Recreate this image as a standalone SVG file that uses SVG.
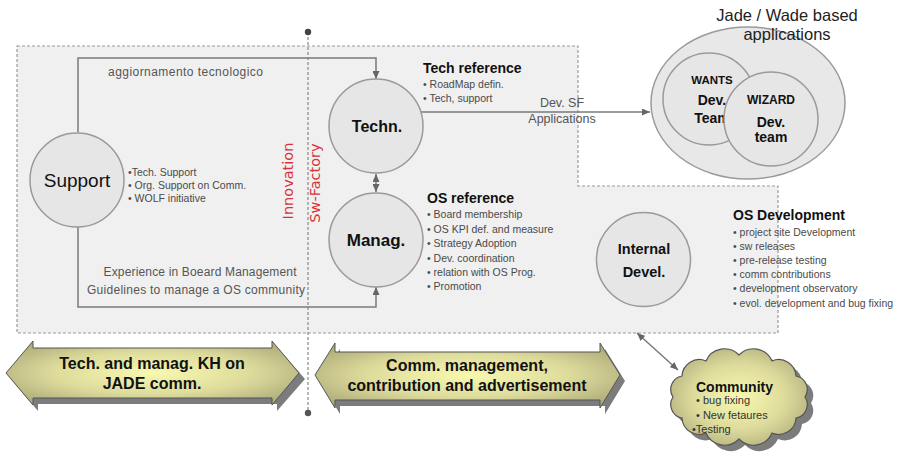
<svg xmlns="http://www.w3.org/2000/svg" width="918" height="454" viewBox="0 0 918 454">
<defs>
<style>
text{font-family:"Liberation Sans",Arial,sans-serif;}
.node{fill:#e6e6e6;stroke:#9a9a9a;stroke-width:1.5;}
.conn{fill:none;stroke:#7a7a7a;stroke-width:1.5;}
.b{font-weight:bold;fill:#111;}
.li{fill:#4a4a4a;font-size:10.5px;}
.lg{fill:#555;}
.red{font-family:"DejaVu Sans",sans-serif;fill:#d8333a;font-size:14.5px;}
.ctr{text-anchor:middle;}
.shadow{fill:#7c7c7c;}
.arrowshape{fill:url(#yel);stroke:#555;stroke-width:1;}
</style>
<radialGradient id="yel" cx="50%" cy="50%" r="60%">
<stop offset="0" stop-color="#f8f8b0"/>
<stop offset="0.55" stop-color="#dedc9c"/>
<stop offset="1" stop-color="#aeac7a"/>
</radialGradient>
<marker id="ah" markerUnits="userSpaceOnUse" markerWidth="8" markerHeight="7" refX="8" refY="3.5" orient="auto-start-reverse">
<path d="M0,0 L8,3.5 L0,7 z" fill="#666"/>
</marker>
</defs>

<rect width="918" height="454" fill="#ffffff"/>

<!-- background region -->
<g id="region">
<polygon points="17,46 578,46 578,186 778,186 778,333 17,333" fill="#f0f0f0" stroke="#999" stroke-width="1.2" stroke-dasharray="3 2"/>
</g>

<!-- divider -->
<g id="divider">
<line x1="308" y1="32" x2="308" y2="413" stroke="#888" stroke-width="1.2" stroke-dasharray="3 2"/>
<circle cx="308" cy="32" r="3.2" fill="#444"/>
<circle cx="308" cy="413" r="3.2" fill="#555"/>
<text class="red ctr" transform="translate(293,181) rotate(-90)">Innovation</text>
<text class="red ctr" transform="translate(320,183) rotate(-90)">Sw-Factory</text>
</g>

<!-- connectors -->
<g id="connectors">
<path class="conn" d="M78,132 V58 H376 V79" marker-end="url(#ah)"/>
<path class="conn" d="M78,227 V307 H376 V287" marker-end="url(#ah)"/>
<path class="conn" d="M421,112 H650" marker-end="url(#ah)"/>
<path class="conn" d="M376,174 V192" marker-start="url(#ah)" marker-end="url(#ah)"/>
<path class="conn" d="M637,333 L678,370" marker-start="url(#ah)" marker-end="url(#ah)"/>
<text class="lg" x="108" y="76" font-size="12" textLength="155">aggiornamento tecnologico</text>
<text class="lg ctr" x="200" y="276" font-size="12" textLength="193">Experience in Boeard Management</text>
<text class="lg ctr" x="196" y="294" font-size="12" textLength="218">Guidelines to manage a OS community</text>
<text class="lg ctr" x="562" y="107" font-size="12.5">Dev. SF</text>
<text class="lg ctr" x="562" y="123" font-size="12.5">Applications</text>
</g>

<!-- Support -->
<g id="support">
<circle class="node" cx="77" cy="180" r="47"/>
<text class="ctr" x="77" y="187" font-size="19" fill="#111">Support</text>
<text class="li" x="128" y="176" font-size="11">•Tech. Support</text>
<text class="li" x="128" y="189" font-size="11">• Org. Support on  Comm.</text>
<text class="li" x="128" y="202" font-size="11">• WOLF initiative</text>
</g>

<!-- Techn -->
<g id="techn">
<circle class="node" cx="376" cy="126" r="47"/>
<text class="b ctr" x="377" y="132" font-size="16">Techn.</text>
<text class="b" x="423" y="73" font-size="14">Tech reference</text>
<text class="li" x="423" y="88">• RoadMap defin.</text>
<text class="li" x="423" y="102">• Tech, support</text>
</g>

<!-- Manag -->
<g id="manag">
<circle class="node" cx="376" cy="240" r="47"/>
<text class="b ctr" x="376" y="246" font-size="17">Manag.</text>
<text class="b" x="427" y="203" font-size="14">OS reference</text>
<text class="li" x="427" y="218" font-size="11">• Board membership</text>
<text class="li" x="427" y="233" font-size="11">• OS KPI def. and measure</text>
<text class="li" x="427" y="247" font-size="11">• Strategy Adoption</text>
<text class="li" x="427" y="262" font-size="11">• Dev. coordination</text>
<text class="li" x="427" y="276" font-size="11">• relation with OS Prog.</text>
<text class="li" x="427" y="290" font-size="11">• Promotion</text>
</g>

<!-- Internal Devel -->
<g id="internal">
<circle class="node" cx="643.5" cy="259.5" r="47"/>
<text class="b ctr" x="644" y="254" font-size="14.5">Internal</text>
<text class="b ctr" x="644" y="277" font-size="14.5">Devel.</text>
<text class="b" x="733" y="220" font-size="14">OS Development</text>
<text class="li" x="733" y="236" font-size="11">• project site Development</text>
<text class="li" x="733" y="250" font-size="11">• sw releases</text>
<text class="li" x="733" y="264" font-size="11">• pre-release testing</text>
<text class="li" x="733" y="278" font-size="11">• comm contributions</text>
<text class="li" x="733" y="292" font-size="11">• development observatory</text>
<text class="li" x="733" y="307" font-size="11">• evol. development  and bug fixing</text>
</g>

<!-- Jade/Wade applications -->
<g id="apps">
<ellipse cx="748" cy="103" rx="97" ry="76" fill="#e8e8e8" stroke="#9a9a9a" stroke-width="1.5"/>
<text class="ctr" x="787" y="21" font-size="16.5" fill="#222">Jade / Wade based</text>
<text class="ctr" x="787" y="40" font-size="16.5" fill="#222">applications</text>
<g id="wants">
<circle class="node" cx="709" cy="99" r="46"/>
<text class="b ctr" x="712" y="84" font-size="11.5">WANTS</text>
<text class="b ctr" x="712" y="105" font-size="14">Dev.</text>
<text class="b ctr" x="712" y="123" font-size="14">Team</text>
</g>
<g id="wizard">
<circle class="node" cx="771" cy="119" r="47"/>
<text class="b ctr" x="771" y="104" font-size="12">WIZARD</text>
<text class="b ctr" x="771" y="127" font-size="14">Dev.</text>
<text class="b ctr" x="771" y="142" font-size="14">team</text>
</g>
</g>

<!-- bottom arrows -->
<g id="khArrow">
<polygon class="shadow" points="11,379 38,347 38,354 277,354 277,347 305,379 277,411 277,404 38,404 38,411"/>
<polygon class="arrowshape" points="6,373 33,341 33,348 272,348 272,341 299,373 272,405 272,398 33,398 33,405"/>
<text class="b ctr" x="152" y="369" font-size="16">Tech. and manag. KH on</text>
<text class="b ctr" x="152" y="389" font-size="16">JADE comm.</text>
</g>
<g id="commArrow">
<polygon class="shadow" points="320,381 340,349 340,358 605,358 605,349 625,381 605,414 605,406 340,406 340,414"/>
<polygon class="arrowshape" points="315,375 335,343 335,352 600,352 600,343 620,375 600,408 600,400 335,400 335,408"/>
<text class="b ctr" x="467" y="371" font-size="16">Comm. management,</text>
<text class="b ctr" x="467" y="391" font-size="16">contribution and advertisement</text>
</g>

<!-- Community cloud -->
<g id="community">
<path transform="translate(6,6)" class="shadow" d="M805,397 A13.7,13.7 0 0 1 796,418 A17.2,17.2 0 0 1 772,433 A20.1,20.1 0 0 1 739,439 A20.1,20.1 0 0 1 706,433 A17.2,17.2 0 0 1 682,418 A13.7,13.7 0 0 1 673,397 A13.7,13.7 0 0 1 682,376 A17.2,17.2 0 0 1 706,361 A20.1,20.1 0 0 1 739,355 A20.1,20.1 0 0 1 772,361 A17.2,17.2 0 0 1 796,376 A13.7,13.7 0 0 1 805,397 Z"/>
<path fill="url(#yel)" stroke="#555" stroke-width="1.2" d="M805,397 A13.7,13.7 0 0 1 796,418 A17.2,17.2 0 0 1 772,433 A20.1,20.1 0 0 1 739,439 A20.1,20.1 0 0 1 706,433 A17.2,17.2 0 0 1 682,418 A13.7,13.7 0 0 1 673,397 A13.7,13.7 0 0 1 682,376 A17.2,17.2 0 0 1 706,361 A20.1,20.1 0 0 1 739,355 A20.1,20.1 0 0 1 772,361 A17.2,17.2 0 0 1 796,376 A13.7,13.7 0 0 1 805,397 Z"/>
<text class="b" x="696" y="392" font-size="14">Community</text>
<text x="696" y="404" font-size="11" fill="#333">• bug fixing</text>
<text x="696" y="419" font-size="11" fill="#333">• New fetaures</text>
<text x="692" y="433" font-size="11" fill="#333">•Testing</text>
</g>
</svg>
